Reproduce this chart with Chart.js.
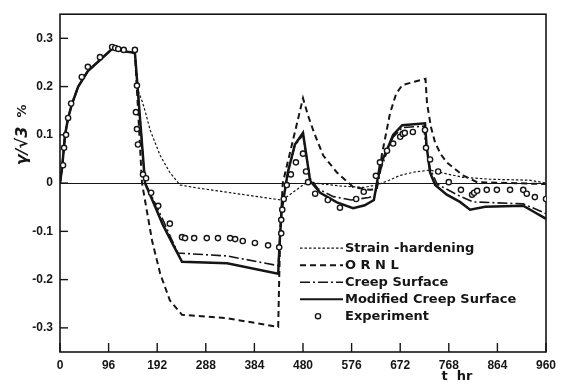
<!DOCTYPE html>
<html>
<head>
<meta charset="utf-8">
<script src="https://cdn.jsdelivr.net/npm/chart.js@4/dist/chart.umd.min.js"></script>
<style>
  html, body { margin: 0; padding: 0; background: #fff; }
  #wrap { width: 569px; height: 389px; }
</style>
</head>
<body>
<div id="wrap"><canvas id="c" width="569" height="389"></canvas></div>
<script>
// Shear strain response (γ/√3, %) versus time t (hr)

const xTicks = [0, 96, 192, 288, 384, 480, 576, 672, 768, 864, 960];
const yTicks = [-0.3, -0.2, -0.1, 0, 0.1, 0.2, 0.3];

// Strain-hardening model
const strainT = [0, 4, 10, 16, 24, 36, 55, 79, 103, 120, 148, 155, 162, 168, 178, 198, 217, 237, 271, 350,
                 437, 442, 488, 520, 553, 600, 626, 650, 672, 700, 731, 760, 796, 850, 928, 960];
const strainV = [0, 0.03, 0.1, 0.135, 0.165, 0.2, 0.232, 0.255, 0.278, 0.274, 0.27, 0.19, 0.17, 0.15, 0.11, 0.057, 0.022, -0.004, -0.01, -0.022,
                 -0.035, -0.033, 0.002, -0.002, -0.006, -0.009, -0.004, 0.006, 0.016, 0.023, 0.027, 0.02, 0.012, 0.008, 0.006, 0.0];

// ORNL model
const ornlT = [0, 4, 10, 16, 24, 36, 55, 79, 103, 120, 148, 162, 182, 198, 217, 241, 330, 431, 435, 440,
               480, 490, 502, 520, 547, 579, 612, 626, 636, 652, 664, 676, 700, 722, 725, 733, 741, 752, 764, 796,
               824, 960];
const ornlV = [0, 0.03, 0.1, 0.135, 0.165, 0.2, 0.232, 0.255, 0.278, 0.274, 0.27, 0, -0.12, -0.188, -0.243, -0.273, -0.28, -0.298, -0.1, 0.0,
               0.176, 0.14, 0.104, 0.057, 0.022, -0.008, -0.014, -0.012, 0.06, 0.145, 0.185, 0.203, 0.21, 0.216, 0.165, 0.115, 0.084, 0.06, 0.043, 0.016,
               0.002, -0.002];

// Creep surface model
const creepT = [0, 4, 10, 16, 24, 36, 55, 79, 103, 120, 148, 168, 185, 205, 222, 233, 330, 431, 434, 438,
                450, 464, 480, 494, 510, 540, 575, 610, 622, 628, 634, 646, 658, 676, 718, 724, 731, 745, 784, 816,
                915, 960];
const creepV = [0, 0.03, 0.1, 0.135, 0.165, 0.2, 0.232, 0.255, 0.278, 0.274, 0.27, 0, -0.035, -0.08, -0.12, -0.145, -0.151, -0.171, -0.12, -0.055,
                0.022, 0.078, 0.1, 0.01, -0.012, -0.028, -0.035, -0.03, -0.025, 0.0, 0.03, 0.065, 0.095, 0.115, 0.118, 0.07, 0.03, -0.002, -0.024, -0.039,
                -0.043, -0.063];

// Modified creep surface model
const modT = [0, 4, 10, 16, 24, 36, 55, 79, 103, 120, 148, 168, 184, 203, 223, 241, 330, 431, 434, 438,
              450, 464, 480, 494, 514, 547, 579, 602, 620, 626, 632, 646, 658, 676, 721, 724, 731, 741, 764, 790,
              810, 840, 915, 940, 960];
const modV = [0, 0.03, 0.1, 0.135, 0.165, 0.2, 0.232, 0.255, 0.278, 0.274, 0.27, 0, -0.039, -0.086, -0.127, -0.163, -0.166, -0.188, -0.12, -0.055,
              0.022, 0.08, 0.104, 0.005, -0.02, -0.04, -0.052, -0.046, -0.035, 0.0, 0.037, 0.069, 0.1, 0.12, 0.124, 0.078, 0.022, -0.004, -0.024, -0.039,
              -0.055, -0.049, -0.047, -0.062, -0.074];

// Measured values
const expT = [6, 8, 12, 16, 22, 43, 55, 79, 103, 109, 115, 126, 148, 152, 150, 152, 154, 164, 170, 180,
              194, 217, 241, 247, 265, 290, 312, 336, 346, 361, 385, 411, 433, 437, 437, 439, 442, 448, 456, 466,
              480, 486, 490, 504, 529, 553, 585, 600, 624, 632, 646, 658, 672, 677, 681, 697, 721, 723, 731, 747,
              768, 792, 814, 818, 824, 843, 863, 889, 915, 922, 938, 960];
const expV = [0.037, 0.073, 0.1, 0.135, 0.165, 0.22, 0.241, 0.261, 0.282, 0.28, 0.278, 0.276, 0.276, 0.202, 0.147, 0.112, 0.08, 0.018, 0.01, -0.02,
              -0.047, -0.084, -0.112, -0.114, -0.114, -0.114, -0.114, -0.114, -0.116, -0.12, -0.124, -0.129, -0.133, -0.104, -0.076, -0.055, -0.033, -0.004, 0.018, 0.043,
              0.061, 0.024, 0.002, -0.022, -0.035, -0.051, -0.033, -0.018, 0.015, 0.043, 0.067, 0.082, 0.096, 0.102, 0.104, 0.106, 0.11, 0.073, 0.049, 0.024,
              0.002, -0.014, -0.024, -0.02, -0.016, -0.014, -0.014, -0.014, -0.014, -0.022, -0.029, -0.033];

const ink = '#151515';
const pts = (ts, vs) => ts.map((t, i) => ({ x: t, y: vs[i] }));

const lineSet = (label, ts, vs, width, dash, order) => ({
  label, data: pts(ts, vs), borderColor: ink, borderWidth: width, borderDash: dash,
  pointRadius: 0, tension: 0, fill: false, order
});

const datasets = [
  { label: 'Experiment', data: pts(expT, expV), showLine: false, pointRadius: 2.6,
    pointBorderWidth: 1.4, pointBorderColor: ink, pointBackgroundColor: '#fff', borderColor: ink, order: 0 },
  lineSet('Modified Creep Surface', modT, modV, 2.5, [], 1),
  lineSet('Creep Surface', creepT, creepV, 1.6, [10, 3, 2, 3], 2),
  lineSet('O R N L', ornlT, ornlV, 2, [6, 4], 3),
  lineSet('Strain -hardening', strainT, strainV, 1.2, [2.5, 2], 4)
];

// Frame, zero line, inward ticks, legend and axis captions
const decor = {
  id: 'decor',
  beforeDatasetsDraw(chart) {
    const { ctx, chartArea: a, scales: { x, y } } = chart;
    ctx.save();
    ctx.strokeStyle = ink;
    ctx.lineWidth = 1;
    const y0 = Math.round(y.getPixelForValue(0)) + 0.5;
    ctx.beginPath(); ctx.moveTo(a.left, y0); ctx.lineTo(a.right, y0); ctx.stroke();
    ctx.lineWidth = 1.6;
    ctx.strokeRect(a.left, a.top, a.right - a.left, a.bottom - a.top);
    ctx.lineWidth = 1.4;
    yTicks.forEach(v => {
      const py = y.getPixelForValue(v);
      ctx.beginPath(); ctx.moveTo(a.left, py); ctx.lineTo(a.left + 8, py); ctx.stroke();
    });
    xTicks.forEach(v => {
      const px = x.getPixelForValue(v);
      ctx.beginPath(); ctx.moveTo(px, a.bottom); ctx.lineTo(px, a.bottom - 9); ctx.stroke();
    });
    ctx.restore();
  },
  afterDraw(chart) {
    const { ctx, chartArea: a } = chart;
    ctx.save();
    ctx.fillStyle = ink;
    ctx.strokeStyle = ink;
    ctx.font = 'bold 13px "DejaVu Sans"';
    ctx.textBaseline = 'middle';
    ctx.textAlign = 'left';
    const lx0 = a.left + 240, lx1 = a.left + 283, tx = a.left + 285;
    const rows = [datasets[4], datasets[3], datasets[2], datasets[1], datasets[0]];
    rows.forEach((d, i) => {
      const ly = a.top + 234 + i * 17;
      if (d.showLine === false) {
        ctx.beginPath();
        ctx.lineWidth = d.pointBorderWidth;
        ctx.fillStyle = '#fff';
        ctx.arc(a.left + 258, ly, d.pointRadius, 0, Math.PI * 2);
        ctx.fill(); ctx.stroke();
        ctx.fillStyle = ink;
      } else {
        ctx.beginPath();
        ctx.lineWidth = Math.min(d.borderWidth, 2);
        ctx.setLineDash(d.borderDash);
        ctx.moveTo(lx0, ly); ctx.lineTo(lx1, ly); ctx.stroke();
        ctx.setLineDash([]);
      }
      ctx.fillText(d.label, tx, ly);
    });

    // axis captions
    ctx.font = 'bold 13px "DejaVu Sans"';
    ctx.textAlign = 'center';
    ctx.fillText('t  hr', 457, 377);
    ctx.save();
    ctx.translate(23, 146);
    ctx.rotate(-Math.PI / 2);
    ctx.font = 'bold italic 16px "DejaVu Sans"';
    ctx.fillText('γ/√3', 0, 0);
    ctx.restore();
    ctx.save();
    ctx.translate(23, 111);
    ctx.rotate(-Math.PI / 2);
    ctx.font = 'bold 13px "DejaVu Sans"';
    ctx.fillText('%', 0, 0);
    ctx.restore();
    ctx.restore();
  }
};

const tickFont = { family: '"Liberation Sans", Arial, sans-serif', size: 12, weight: 'bold' };

new Chart(document.getElementById('c'), {
  type: 'line',
  data: { datasets },
  options: {
    responsive: false,
    animation: false,
    devicePixelRatio: 1,
    layout: { padding: { top: 10, right: 23, bottom: 0, left: 0 } },
    plugins: { legend: { display: false }, tooltip: { enabled: false } },
    scales: {
      x: {
        type: 'linear', min: 0, max: 960,
        afterBuildTicks: s => { s.ticks = xTicks.map(v => ({ value: v })); },
        afterFit: s => { s.height = 37; },
        grid: { display: false, drawTicks: false },
        border: { display: false },
        ticks: { font: tickFont, color: ink, padding: 6, maxRotation: 0, autoSkip: false,
                 callback: v => String(v) }
      },
      y: {
        type: 'linear', min: -0.35, max: 0.35,
        afterBuildTicks: s => { s.ticks = yTicks.map(v => ({ value: v })); },
        afterFit: s => { s.width = 60; },
        grid: { display: false, drawTicks: false },
        border: { display: false },
        ticks: { font: tickFont, color: ink, padding: 7,
                 callback: v => (Math.abs(v) < 1e-9 ? '0' : v.toFixed(1)) }
      }
    }
  },
  plugins: [decor]
});
</script>
</body>
</html>
